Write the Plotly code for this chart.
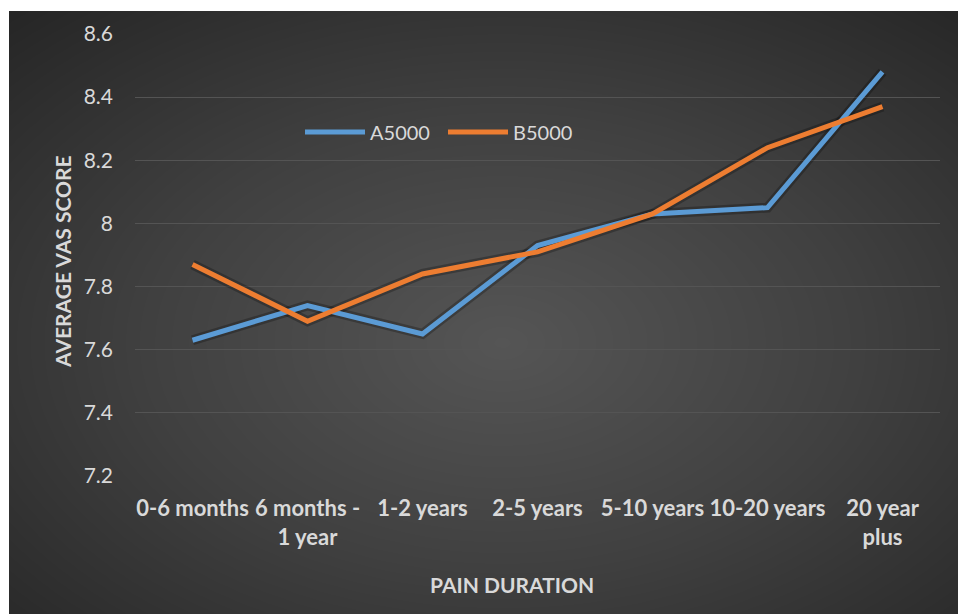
import numpy as np
import plotly.graph_objects as go

# Pain duration categories and average VAS scores per group
categories = ["0-6 months", "6 months -<br>1 year", "1-2 years", "2-5 years",
              "5-10 years", "10-20 years", "20 year<br>plus"]
a5000 = [7.63, 7.74, 7.65, 7.93, 8.03, 8.05, 8.48]
b5000 = [7.87, 7.69, 7.84, 7.91, 8.03, 8.24, 8.37]
y_ticks = [7.2, 7.4, 7.6, 7.8, 8.0, 8.2, 8.4, 8.6]
y_tick_text = ["7.2", "7.4", "7.6", "7.8", "8", "8.2", "8.4", "8.6"]

W, H = 958, 614
TEXT = "#d9d9d9"
FONT = "Lato"

# Radial gradient backdrop (chart area fill)
nx, ny = 160, 110
gx = np.linspace(0, 1, nx)
gy = np.linspace(0, 1, ny)
XX, YY = np.meshgrid(gx, gy)
dist = np.sqrt(((XX - 0.52) / 0.75) ** 2 + ((YY - 0.55) / 0.75) ** 2)
bg = np.clip(dist, 0, 1)

fig = go.Figure()
fig.add_trace(go.Heatmap(
    x=gx, y=gy, z=bg, xaxis="x", yaxis="y",
    colorscale=[[0, "#555555"], [0.5, "#404040"], [1, "#262626"]],
    zmin=0, zmax=1, zsmooth="best", showscale=False, hoverinfo="skip",
))

# Soft shadows under the series lines
for vals in (a5000, b5000):
    fig.add_trace(go.Scatter(
        x=categories, y=vals, xaxis="x2", yaxis="y2", mode="lines",
        line=dict(color="rgba(0,0,0,0.25)", width=10), showlegend=False,
        hoverinfo="skip",
    ))

fig.add_trace(go.Scatter(
    x=categories, y=a5000, xaxis="x2", yaxis="y2", mode="lines", name="A5000",
    line=dict(color="#5b9bd5", width=5),
))
fig.add_trace(go.Scatter(
    x=categories, y=b5000, xaxis="x2", yaxis="y2", mode="lines", name="B5000",
    line=dict(color="#ed7d31", width=5),
))

px_x = lambda p: p / W
px_y = lambda p: 1 - p / H

fig.update_layout(
    width=W, height=H,
    margin=dict(l=0, r=0, t=0, b=0, autoexpand=False),
    paper_bgcolor="white",
    plot_bgcolor="rgba(0,0,0,0)",
    font=dict(family=FONT, color=TEXT),
    xaxis=dict(domain=[px_x(9), 1], range=[0, 1], visible=False,
               fixedrange=True, automargin=False),
    yaxis=dict(domain=[0, px_y(11)], range=[1, 0], visible=False,
               fixedrange=True, automargin=False),
    xaxis2=dict(
        domain=[px_x(135), px_x(940)], anchor="y2",
        type="category", range=[-0.5, 6.5], automargin=False,
        showgrid=False, zeroline=False, showline=False, ticks="",
        tickfont=dict(family=FONT, size=22, color=TEXT, weight="bold"),
        ticklabelstandoff=17,
    ),
    yaxis2=dict(
        domain=[px_y(476), px_y(34)], anchor="x2",
        range=[7.2, 8.6], tickvals=y_ticks, ticktext=y_tick_text,
        automargin=False,
        showgrid=True, gridcolor="#545454", gridwidth=1.3,
        zeroline=False, showline=False, ticks="",
        tickfont=dict(family=FONT, size=21, color=TEXT),
        ticklabelstandoff=21,
    ),
    showlegend=True,
    legend=dict(
        orientation="h", x=px_x(300), y=px_y(132), xanchor="left", yanchor="middle",
        bgcolor="rgba(0,0,0,0)", font=dict(family=FONT, size=20, color=TEXT),
        itemwidth=60, tracegroupgap=0, entrywidth=68, entrywidthmode="pixels",
    ),
    annotations=[
        dict(text="<b>AVERAGE VAS SCORE</b>", x=px_x(62), y=px_y(261),
             xref="paper", yref="paper", xanchor="center", yanchor="middle",
             textangle=-90, showarrow=False,
             font=dict(family=FONT, size=21, color=TEXT)),
        dict(text="<b>PAIN DURATION</b>", x=px_x(512), y=px_y(584),
             xref="paper", yref="paper", xanchor="center", yanchor="middle",
             showarrow=False,
             font=dict(family=FONT, size=21, color=TEXT)),
    ],
)

fig.write_html("out.html")
